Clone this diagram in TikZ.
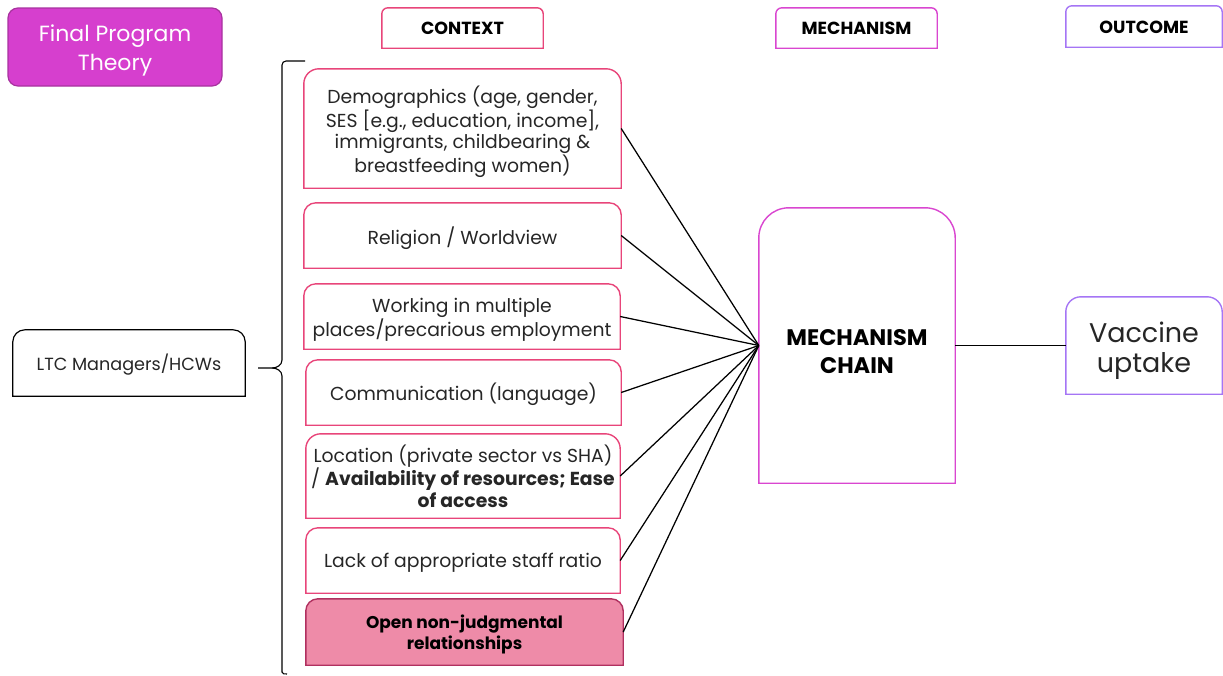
\documentclass[tikz,border=0pt]{standalone}
\usepackage{fontspec}
\setmainfont{Poppins}
\usetikzlibrary{calc}

\definecolor{ctxpink}{HTML}{E8457A}
\definecolor{mechmag}{HTML}{D946D0}
\definecolor{outpurple}{HTML}{A575F5}
\definecolor{titlefill}{HTML}{D63FCE}
\definecolor{titleedge}{HTML}{A8329F}
\definecolor{openfill}{HTML}{EE8BA8}
\definecolor{openedge}{HTML}{B0305F}

% outline of a box whose top corners are rounded and bottom corners square;
% #4 lifts the outline above the node, which sits a little low for the text
\newcommand{\toprnd}[4]{%
  \draw[#3] ([yshift=#4]#1.south west) -- ([yshift=#4-#2]#1.north west)
    arc[start angle=180,end angle=90,radius=#2]
    -- ([xshift=-#2,yshift=#4]#1.north east)
    arc[start angle=90,end angle=0,radius=#2]
    -- ([yshift=#4]#1.south east) -- cycle;}

\begin{document}
\begin{tikzpicture}[x=1pt,y=1pt,
  box/.style={inner sep=0pt, align=center},
  body/.style={box, font=\fontsize{18.8}{21.5}\selectfont, text=black!85},
  head/.style={box, font=\fontsize{17.5}{20}\selectfont\bfseries},
  ctxedge/.style={draw=ctxpink, line width=1.4pt},
  link/.style={draw=black, line width=1.25pt}]
\useasboundingbox (0,0) rectangle (1223,-675);

% title
\fill[titlefill, draw=titleedge, line width=1.2pt, rounded corners=10pt]
  (8,-8) rectangle (222,-86);
\node[box, text=white, font=\fontsize{22}{29}\selectfont] (title) at (115,-50)
  {Final Program\\Theory};

% column headers
\node[head, minimum width=161pt, minimum height=40pt] (hctx) at (462.5,-28) {CONTEXT};
\toprnd{hctx}{6pt}{ctxedge}{0pt}
\node[head, minimum width=161pt, minimum height=40pt] (hmech) at (856.5,-28) {MECHANISM};
\toprnd{hmech}{6pt}{draw=mechmag, line width=1.4pt}{0pt}
\node[head, minimum width=156pt, minimum height=41pt] (hout) at (1144,-27.5) {OUTCOME};
\toprnd{hout}{6pt}{draw=outpurple, line width=1.4pt}{1pt}

% actor
\node[box, minimum width=232pt, minimum height=66pt, text=black!85,
  font=\fontsize{17.6}{21}\selectfont] (ltc) at (129,-365) {LTC Managers/HCWs};
\toprnd{ltc}{12pt}{draw=black, line width=1.2pt}{2pt}

% brace
\draw[line width=1.1pt] (305,-61) -- (286,-61) to[out=180,in=90] (282,-65) -- (282,-360)
  to[out=-90,in=0] (272,-368) -- (258,-368);
\draw[line width=1.1pt] (272,-368) to[out=0,in=90] (282,-376) -- (282,-672)
  to[out=-90,in=180] (287,-674);

% context factors
\node[body, minimum width=317pt, minimum height=119pt] (demo) at (462.5,-132)
  {Demographics (age, gender,\\SES [e.g., education, income],\\immigrants, childbearing \&\\breastfeeding women)};
\toprnd{demo}{15pt}{ctxedge}{3.5pt}
\node[body, minimum width=317pt, minimum height=65pt] (relig) at (462.5,-238.5)
  {Religion / Worldview};
\toprnd{relig}{12pt}{ctxedge}{3pt}
\node[body, minimum width=316pt, minimum height=65pt] (work) at (462,-319.5)
  {Working in multiple\\places/precarious employment};
\toprnd{work}{12pt}{ctxedge}{3pt}
\node[body, minimum width=315pt, minimum height=65pt] (comm) at (463.5,-394.5)
  {Communication (language)};
\toprnd{comm}{12pt}{ctxedge}{2pt}
\node[body, minimum width=314pt, minimum height=84pt] (loc) at (463,-476)
  {Location (private sector vs SHA)\\/ \textbf{Availability of resources; Ease}\\\textbf{of access}};
\toprnd{loc}{15pt}{ctxedge}{0pt}
\node[body, minimum width=314pt, minimum height=65pt] (staff) at (463,-562.5)
  {Lack of appropriate staff ratio};
\toprnd{staff}{12pt}{ctxedge}{2pt}
\node[box, minimum width=317pt, minimum height=66pt] (open) at (464.5,-632) {};
\toprnd{open}{12pt}{draw=openedge, fill=openfill, line width=1.4pt}{0pt}
\node[box, font=\fontsize{17}{21}\selectfont\bfseries] (opentext) at (464.5,-634.5)
  {Open non-judgmental\\relationships};

% mechanism and outcome
\node[box, minimum width=196pt, minimum height=275pt, font=\fontsize{22.5}{28}\selectfont\bfseries]
  (mech) at (857,-351.5) {MECHANISM\\CHAIN};
\toprnd{mech}{30pt}{draw=mechmag, line width=1.4pt}{6pt}
\node[box, minimum width=156pt, minimum height=97pt, font=\fontsize{27}{30}\selectfont, text=black!85]
  (vacc) at (1144,-350.5) {Vaccine\\uptake};
\toprnd{vacc}{15pt}{draw=outpurple, line width=1.4pt}{5pt}

% connectors
\coordinate (hub) at ([yshift=6pt]mech.west);
\draw[link] ([yshift=3.5pt]demo.east) -- (hub);
\draw[link] ([yshift=3pt]relig.east) -- (hub);
\draw[link] ([yshift=3pt]work.east) -- (hub);
\draw[link] ([yshift=2pt]comm.east) -- (hub);
\draw[link] (loc.east) -- (hub);
\draw[link] ([yshift=2pt]staff.east) -- (hub);
\draw[link] (open.east) -- (hub);
\draw[link] (hub -| mech.east) -- (hub -| vacc.west);
\end{tikzpicture}
\end{document}
